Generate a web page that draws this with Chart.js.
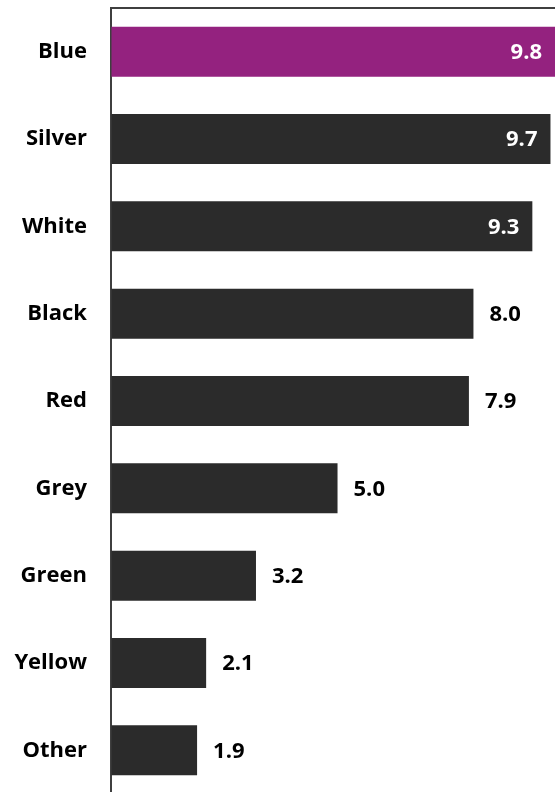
<!DOCTYPE html>
<html>
<head>
<meta charset="utf-8">
<script src="https://cdn.jsdelivr.net/npm/chart.js@4/dist/chart.umd.min.js"></script>
<style>
html,body{margin:0;padding:0;background:#fff;overflow:hidden;}
#wrap{width:555px;height:794px;position:relative;}
</style>
</head>
<body>
<div id="wrap"><canvas id="c" width="555" height="794"></canvas></div>
<script>
const categories = ["Blue","Silver","White","Black","Red","Grey","Green","Yellow","Other"];
const values = [9.8, 9.7, 9.3, 8.0, 7.9, 5.0, 3.2, 2.1, 1.9];
const highlight = "Blue";

const FONT = "'Open Sans', 'Liberation Sans', sans-serif";
const barColors = categories.map(c => c === highlight ? "#94227f" : "#2b2b2b");

const valueLabels = {
  id: "valueLabels",
  afterDatasetsDraw(chart) {
    const ctx = chart.ctx;
    const meta = chart.getDatasetMeta(0);
    const area = chart.chartArea;
    ctx.save();
    ctx.font = "bold 22px " + FONT;
    ctx.textBaseline = "middle";
    meta.data.forEach((bar, i) => {
      const v = values[i];
      const txt = v.toFixed(1);
      const end = Math.min(bar.x, area.right);
      if (v >= 9) {
        ctx.fillStyle = "#ffffff";
        ctx.textAlign = "right";
        ctx.fillText(txt, end - 13, bar.y + 1);
      } else {
        ctx.fillStyle = "#000000";
        ctx.textAlign = "left";
        ctx.fillText(txt, end + 16, bar.y + 1);
      }
    });
    ctx.restore();
  }
};

const topFrame = {
  id: "topFrame",
  afterDraw(chart) {
    const ctx = chart.ctx;
    const a = chart.chartArea;
    ctx.save();
    ctx.strokeStyle = "#3f3f3f";
    ctx.lineWidth = 2;
    ctx.beginPath();
    ctx.moveTo(a.left - 1, a.top);
    ctx.lineTo(chart.width, a.top);
    ctx.stroke();
    ctx.restore();
  }
};

new Chart(document.getElementById("c"), {
  type: "bar",
  data: {
    labels: categories,
    datasets: [{
      data: values,
      backgroundColor: barColors,
      borderWidth: 0,
      categoryPercentage: 1,
      barPercentage: 0.573
    }]
  },
  options: {
    indexAxis: "y",
    responsive: false,
    maintainAspectRatio: false,
    animation: false,
    layout: { padding: { top: 8, right: 0, bottom: 0, left: 0 } },
    plugins: { legend: { display: false }, tooltip: { enabled: false } },
    scales: {
      x: {
        position: "top",
        min: 0,
        max: 9.8,
        afterFit(scale) { scale.height = 0; scale.paddingLeft = 0; scale.paddingRight = 0; },
        ticks: { display: false },
        grid: { display: true, drawOnChartArea: false, drawTicks: false },
        border: { display: true, color: "#3f3f3f", width: 2 }
      },
      y: {
        afterFit(scale) { scale.width = 111; scale.paddingTop = 0; scale.paddingBottom = 0; },
        ticks: {
          color: "#000000",
          padding: 24,
          font: { family: FONT, size: 22, weight: "bold" }
        },
        grid: { display: true, drawOnChartArea: false, drawTicks: false },
        border: { display: true, color: "#3f3f3f", width: 2 }
      }
    }
  },
  plugins: [valueLabels, topFrame]
});
</script>
</body>
</html>
